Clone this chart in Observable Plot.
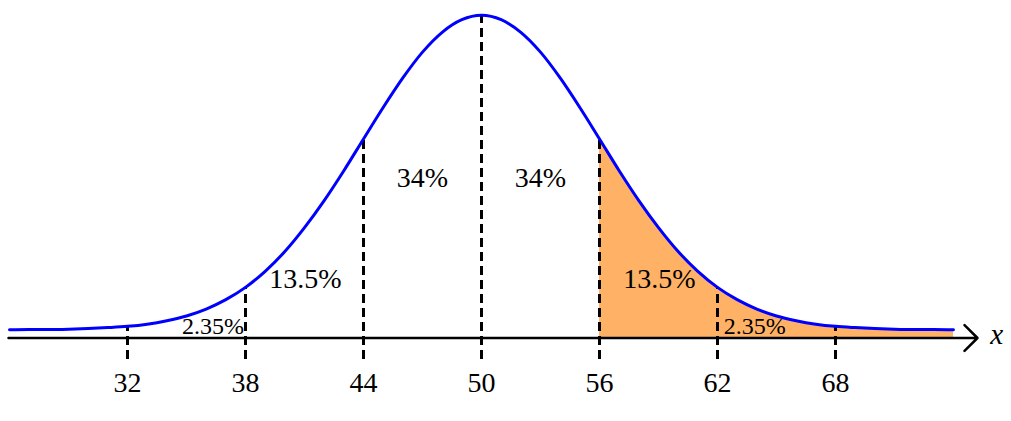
<!DOCTYPE html>
<html>
<head>
<meta charset="utf-8">
<script src="https://cdn.jsdelivr.net/npm/d3@7"></script>
<script src="https://cdn.jsdelivr.net/npm/@observablehq/plot@0.6"></script>
<style>
  html, body { margin: 0; padding: 0; background: #fff; }
  #chart svg { display: block; }
  #chart svg text { font-family: "Liberation Serif", "Times New Roman", Times, serif !important; }
</style>
</head>
<body>
<div id="chart"></div>
<script>
// Curve samples (axis at 0, curve floor ≈ 0.026, peak ≈ 1.026)
const curveX = [26,27,28,29,30,31,32,33,34,35,36,37,38,39,40,41,42,43,44,45,46,47,48,49,50,
                51,52,53,54,55,56,57,58,59,60,61,62,63,64,65,66,67,68,69,70,71,72,73,74];
const curveY = [0.026,0.027,0.027,0.028,0.030,0.033,0.037,0.044,0.055,0.070,0.092,0.122,0.161,
                0.212,0.275,0.351,0.437,0.532,0.633,0.733,0.827,0.909,0.972,1.012,1.026,
                1.012,0.972,0.909,0.827,0.733,0.633,0.532,0.437,0.351,0.275,0.212,0.161,0.122,
                0.092,0.070,0.055,0.044,0.037,0.033,0.030,0.028,0.027,0.027,0.026];
const tickValues = [32, 38, 44, 50, 56, 62, 68];
const tickLabels = ["32", "38", "44", "50", "56", "62", "68"];
const shadeFrom = 56;
const regionLabels = ["2.35%", "13.5%", "34%", "34%", "13.5%", "2.35%"];
const regionLabelX = [36.35, 41.05, 47.0, 53.0, 59.05, 63.9];
const regionLabelY = [0.014, 0.160, 0.479, 0.479, 0.158, 0.014];
const regionLabelSize = [24, 28, 28, 28, 28, 24];

const curve = curveX.map((x, i) => ({x, y: curveY[i]}));
const shaded = curve.filter(d => d.x >= shadeFrom);
const curveAt = x => curve.find(d => d.x === x).y;
const ticks = tickValues.map((v, i) => ({x: v, top: curveAt(v), label: tickLabels[i]}));
const labels = regionLabels.map((t, i) => ({t, x: regionLabelX[i], y: regionLabelY[i], s: regionLabelSize[i]}));

const serif = "'Liberation Serif', 'Times New Roman', Times, serif";

const chart = Plot.plot({
  width: 1011,
  height: 421,
  marginLeft: 9,
  marginRight: 58,
  marginTop: 15,
  marginBottom: 83.5,
  x: {domain: [26, 74], axis: null},
  y: {domain: [0, 1.0255], axis: null},
  style: {fontFamily: serif, background: "#fff"},
  marks: [
    Plot.areaY(shaded, {x: "x", y1: 0, y2: "y", fill: "#FFB266", fillOpacity: 1, curve: "monotone-x"}),
    Plot.ruleX(ticks, {x: "x", y1: -0.068, y2: "top", stroke: "#000", strokeWidth: 3, strokeDasharray: "9,5"}),
    Plot.line(curve, {x: "x", y: "y", stroke: "#0000FF", strokeWidth: 3, curve: "monotone-x"}),
    Plot.arrow([{x1: 25.95, x2: 75.22}], {x1: "x1", x2: "x2", y1: 0, y2: 0, stroke: "#000", strokeWidth: 2.5, headAngle: 90, headLength: 11}),
    Plot.text(ticks, {x: "x", y: -0.173, text: "label", fontSize: 28, fill: "#000", textAnchor: "middle", lineAnchor: "bottom"}),
    Plot.text(labels.filter(d => d.s === 28), {x: "x", y: "y", text: "t", fontSize: 28, fill: "#000", textAnchor: "middle", lineAnchor: "bottom"}),
    Plot.text(labels.filter(d => d.s === 24), {x: "x", y: "y", text: "t", fontSize: 24, fill: "#000", textAnchor: "middle", lineAnchor: "bottom"}),
    Plot.text(["x"], {x: 76.19, y: -0.0175, text: d => d, fontSize: 29, fontStyle: "italic", fill: "#000", textAnchor: "middle", lineAnchor: "bottom"})
  ]
});
document.getElementById("chart").appendChild(chart);
</script>
</body>
</html>
